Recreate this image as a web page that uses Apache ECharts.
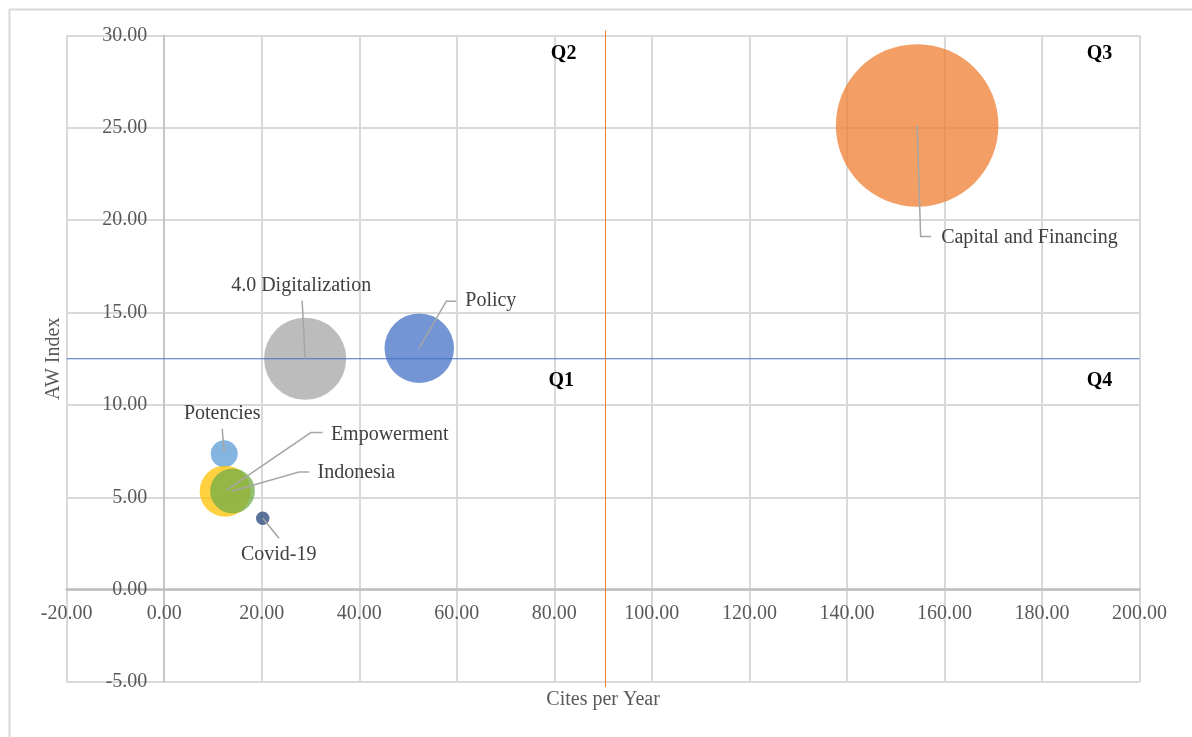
<!DOCTYPE html>
<html>
<head>
<meta charset="utf-8">
<title>AW Index vs Cites per Year</title>
<script src="https://cdn.jsdelivr.net/npm/echarts@6/dist/echarts.min.js"></script>
<style>
  html, body { margin: 0; padding: 0; background: #fff; }
  #chart { width: 1192px; height: 737px; }
</style>
</head>
<body>
<div id="chart"></div>
<script>
// 数据
const names = ['Capital and Financing', 'Policy', '4.0 Digitalization', 'Potencies', 'Empowerment', 'Indonesia', 'Covid-19']
const citesPerYear = [154.4, 52.3, 28.9, 12.3, 12.5, 14.0, 20.2]
const awIndex = [25.13, 13.07, 12.5, 7.36, 5.33, 5.34, 3.87]
const bubbleSize = [145, 26.5, 37, 4, 14.3, 11, 1]
const colors = ['#ED7D31', '#4472C4', '#A5A5A5', '#5B9BD5', '#FFC000', '#70AD47', '#264478']

const quadNames = ['Q1', 'Q2', 'Q3', 'Q4']
const quadX = [81.4, 81.9, 191.8, 191.8]
const quadY = [11.3, 29.0, 29.0, 11.3]

// 坐标轴范围 + 分界线
const xMin = -20, xMax = 200, xStep = 20
const yMin = -5, yMax = 30, yStep = 5
const xCut = 90.5
const yCut = 12.5

// 标签引线偏移（像素，相对气泡中心）
const labelLayout = [
  { line: [[0, 0], [3.5, 111], [14, 111]], text: [24, 112], align: 'left' },
  { line: [[0, 0], [27, -47], [37, -47]], text: [46, -47], align: 'left' },
  { line: [[0, 0], [-3, -58]], text: [-4, -73], align: 'center' },
  { line: [[0, -1], [-2, -25]], text: [-2, -40], align: 'center' },
  { line: [[1.7, -1.3], [85.7, -58.6], [97.4, -58.6]], text: [105.7, -56], align: 'left' },
  { line: [[0, 0], [66.6, -19], [76.6, -19]], text: [85, -18], align: 'left' },
  { line: [[0, 0], [16.3, 20]], text: [16, 37], align: 'center' }
]

const serif = '"Liberation Serif", "Times New Roman", serif'

const chart = echarts.init(document.getElementById('chart'))
chart.setOption({
  animation: false,
  graphic: [{
    type: 'rect',
    left: 7,
    top: 7,
    shape: { width: 1200, height: 800 },
    style: { fill: null, stroke: '#D9D9D9', lineWidth: 2 },
    silent: true
  }],
  grid: {
    left: 66.7,
    right: 52.5,
    top: 35.5,
    bottom: 55,
    containLabel: false,
    outerBoundsMode: 'none'
  },
  xAxis: {
    type: 'value',
    min: xMin,
    max: xMax,
    interval: xStep,
    // 轴线移到 y=0
    offset: -92.3,
    name: 'Cites per Year',
    nameLocation: 'middle',
    nameGap: 100,
    nameTextStyle: { fontFamily: serif, fontSize: 20, color: '#595959' },
    axisLine: { onZero: false, lineStyle: { color: '#BFBFBF', width: 2.5 } },
    axisTick: { show: false },
    axisLabel: {
      fontFamily: serif,
      fontSize: 20,
      color: '#595959',
      margin: 14,
      formatter: (v) => v.toFixed(2)
    },
    splitLine: { show: true, lineStyle: { color: '#D9D9D9', width: 2 } }
  },
  yAxis: {
    type: 'value',
    min: yMin,
    max: yMax,
    interval: yStep,
    // 轴线移到 x=0
    offset: -96.6,
    name: 'AW Index',
    nameLocation: 'middle',
    nameGap: 100,
    nameTextStyle: { fontFamily: serif, fontSize: 20, color: '#595959' },
    axisLine: { show: true, onZero: false, lineStyle: { color: '#BFBFBF', width: 1.5 } },
    axisTick: { show: false },
    axisLabel: {
      fontFamily: serif,
      fontSize: 20,
      color: '#595959',
      margin: 16,
      formatter: (v) => v.toFixed(2)
    },
    splitLine: { show: true, lineStyle: { color: '#D9D9D9', width: 2 } }
  },
  series: [
    {
      type: 'scatter',
      data: names.map((n, i) => ({
        value: [citesPerYear[i], awIndex[i], bubbleSize[i]],
        itemStyle: { color: colors[i], opacity: 0.75 }
      })),
      symbolSize: (val) => 13.5 * Math.sqrt(val[2]),
      emphasis: { disabled: true },
      silent: true,
      z: 3
    },
    {
      // 分界线
      type: 'custom',
      data: [[xCut, yCut]],
      silent: true,
      z: 5,
      renderItem: (params, api) => {
        const h0 = api.coord([xMin, api.value(1)])
        const h1 = api.coord([xMax, api.value(1)])
        const v0 = api.coord([api.value(0), yMax])
        const v1 = api.coord([api.value(0), yMin])
        return {
          type: 'group',
          children: [
            {
              type: 'line',
              shape: { x1: h0[0], y1: h0[1], x2: h1[0], y2: h1[1] },
              style: { stroke: '#4472C4', lineWidth: 1 }
            },
            {
              type: 'line',
              shape: { x1: v0[0], y1: v0[1] - 5, x2: v1[0], y2: v1[1] + 5 },
              style: { stroke: '#ED7D31', lineWidth: 1 }
            }
          ]
        }
      }
    },
    {
      // 气泡标签 + 引线
      type: 'custom',
      data: names.map((n, i) => [citesPerYear[i], awIndex[i]]),
      silent: true,
      z: 10,
      renderItem: (params, api) => {
        const i = params.dataIndex
        const p = api.coord([api.value(0), api.value(1)])
        const L = labelLayout[i]
        return {
          type: 'group',
          children: [
            {
              type: 'polyline',
              shape: { points: L.line.map((d) => [p[0] + d[0], p[1] + d[1]]) },
              style: { stroke: '#A6A6A6', lineWidth: 1.5, fill: null }
            },
            {
              type: 'text',
              x: p[0] + L.text[0],
              y: p[1] + L.text[1],
              style: {
                text: names[i],
                align: L.align,
                verticalAlign: 'middle',
                font: '20px ' + serif,
                fill: '#404040'
              }
            }
          ]
        }
      }
    },
    {
      // 象限标签
      type: 'custom',
      data: quadNames.map((q, i) => [quadX[i], quadY[i]]),
      silent: true,
      z: 10,
      renderItem: (params, api) => {
        const p = api.coord([api.value(0), api.value(1)])
        return {
          type: 'text',
          x: p[0],
          y: p[1],
          style: {
            text: quadNames[params.dataIndex],
            align: 'center',
            verticalAlign: 'middle',
            font: 'bold 20px ' + serif,
            fill: '#000000'
          }
        }
      }
    }
  ]
})
</script>
</body>
</html>
